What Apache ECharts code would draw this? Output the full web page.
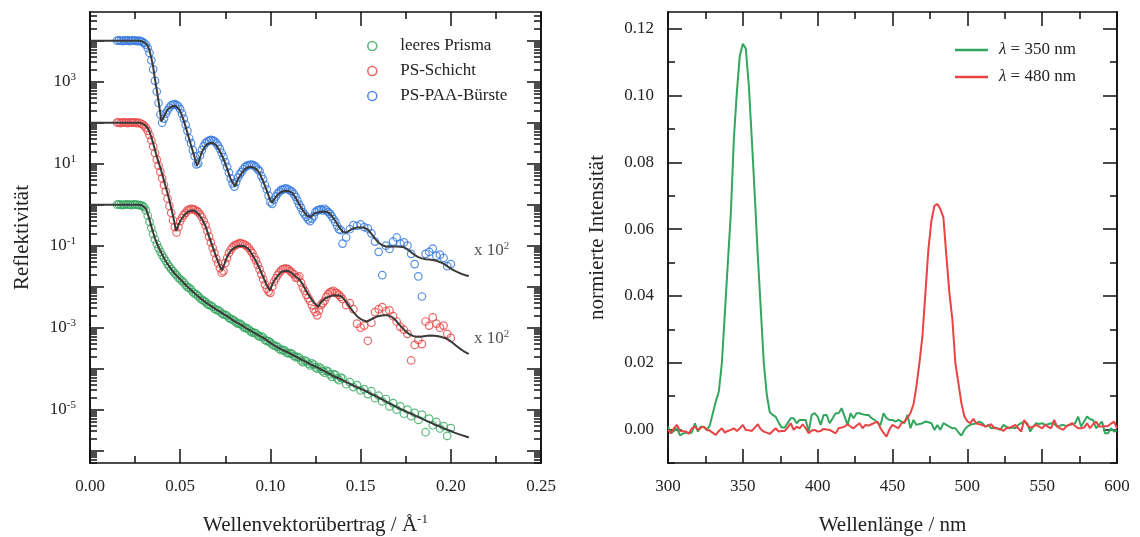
<!DOCTYPE html>
<html><head><meta charset="utf-8">
<script src="https://cdn.jsdelivr.net/npm/echarts@6/dist/echarts.min.js"></script>
<style>html,body{margin:0;padding:0;background:#fff}#c{width:1140px;height:537px}</style>
</head><body><div id="c"></div>
<script>
const FONT = '"Liberation Serif","DejaVu Serif",serif';
const C_GREEN = '#33a65e', C_RED = '#e94343', C_BLUE = '#2e74dd', C_FIT = '#3a3a3a', C_TXT = '#222';

// ---------- left panel: reflectivity (values stored as log10 of reflectivity) ----------
const qExp = [0.015,0.016,0.017,0.018,0.019,0.020,0.021,0.022,0.023,0.024,0.025,0.026,0.027,
0.028,0.029,0.030,0.031,0.032,0.033,0.034,0.035,0.036,0.037,0.038,0.039,0.040,0.041,0.042,0.043,0.044,0.045,0.046,0.047,0.048,0.049,0.050,
0.051,0.052,0.053,0.054,0.055,0.056,0.057,0.058,0.059,0.060,
0.061,0.062,0.063,0.064,0.065,0.066,0.067,0.068,0.069,0.070,
0.071,0.072,0.073,0.074,0.075,0.076,0.077,0.078,0.079,0.080,
0.081,0.082,0.083,0.084,0.085,0.086,0.087,0.088,0.089,0.090,
0.091,0.092,0.093,0.094,0.095,0.096,0.097,0.098,0.099,0.100,
0.101,0.102,0.103,0.104,0.105,0.106,0.107,0.108,0.109,0.110,
0.111,0.112,0.113,0.114,0.115,0.116,0.117,0.118,0.119,0.120,
0.121,0.122,0.123,0.124,0.125,0.126,0.127,0.128,0.129,0.130,
0.131,0.132,0.133,0.134,0.135,0.136,0.137,0.138,0.139,0.140,
0.142,0.144,0.146,0.148,0.150,
0.152,0.154,0.156,0.158,0.160,0.162,0.164,0.166,0.168,0.170,0.172,0.174,0.176,0.178,0.180,0.182,0.184,0.186,0.188,0.190,0.192,0.194,0.196,0.198,0.200];

const reflBlueLog10 = [4.00,4.01,4.00,3.99,4.01,4.00,4.01,3.99,4.00,4.01,4.00,3.99,4.00,
3.99,3.97,3.94,3.90,3.82,3.70,3.52,3.30,3.02,2.76,2.48,2.20,2.00,2.10,2.22,2.30,2.37,2.42,2.44,2.45,2.43,2.40,2.33,
2.22,2.10,1.95,1.80,1.62,1.50,1.33,1.18,0.98,1.00,
1.20,1.33,1.43,1.50,1.54,1.56,1.58,1.57,1.55,1.50,
1.44,1.36,1.26,1.16,1.04,0.92,0.78,0.64,0.52,0.44,
0.55,0.66,0.74,0.80,0.87,0.92,0.95,0.96,0.98,0.97,
0.95,0.92,0.86,0.82,0.70,0.62,0.48,0.37,0.22,0.06,
0.02,0.12,0.20,0.27,0.32,0.36,0.37,0.39,0.39,0.37,
0.34,0.32,0.26,0.19,0.10,0.00,-0.08,-0.18,-0.24,-0.30,
-0.36,-0.40,-0.34,-0.28,-0.18,-0.14,-0.13,-0.11,-0.14,-0.10,
-0.14,-0.18,-0.22,-0.28,-0.35,-0.42,-0.52,-0.60,-0.62,-0.95,
-0.80,-0.60,-0.50,-0.52,-0.48,
-0.55,-0.58,-0.70,-0.90,-1.15,-1.72,-1.00,-1.08,-0.90,-0.80,-0.95,-0.92,-1.00,-1.20,-1.45,-1.75,-2.24,-1.20,-1.15,-1.07,-1.25,-1.22,-1.30,-1.50,-1.45];

const reflRedLog10 = [2.00,2.01,1.99,2.00,2.01,2.00,1.99,2.01,2.00,2.00,2.01,1.99,2.00,
1.98,1.96,1.93,1.88,1.80,1.70,1.57,1.42,1.26,1.10,0.95,0.80,0.64,0.48,0.32,0.15,-0.03,-0.20,-0.38,-0.55,-0.68,-0.55,-0.40,
-0.32,-0.25,-0.20,-0.14,-0.12,-0.10,-0.11,-0.12,-0.15,-0.18,
-0.24,-0.30,-0.40,-0.50,-0.64,-0.78,-0.92,-1.05,-1.18,-1.32,
-1.43,-1.55,-1.66,-1.62,-1.42,-1.30,-1.18,-1.10,-1.04,-1.00,
-0.98,-0.96,-0.94,-0.95,-0.96,-0.98,-1.02,-1.05,-1.12,-1.18,
-1.28,-1.36,-1.47,-1.58,-1.70,-1.82,-1.95,-2.05,-2.12,-2.15,
-2.00,-1.88,-1.80,-1.72,-1.65,-1.60,-1.57,-1.56,-1.56,-1.58,
-1.62,-1.66,-1.70,-1.78,-1.78,-1.75,-1.90,-2.02,-2.10,-2.20,
-2.28,-2.35,-2.45,-2.55,-2.62,-2.70,-2.58,-2.45,-2.40,-2.35,
-2.25,-2.18,-2.14,-2.12,-2.10,-2.15,-2.16,-2.20,-2.25,-2.30,
-2.45,-2.40,-2.55,-2.90,-3.00,
-2.95,-3.32,-2.88,-2.62,-2.55,-2.50,-2.60,-2.58,-2.72,-2.85,-2.98,-3.05,-3.15,-3.80,-3.42,-3.30,-3.40,-2.85,-2.95,-2.75,-2.90,-3.00,-2.95,-3.15,-3.25];

const reflGreenLog10 = [0.00,0.01,0.00,-0.01,0.00,0.01,0.00,0.00,-0.01,0.01,0.00,0.00,-0.01,
-0.01,-0.03,-0.06,-0.14,-0.27,-0.42,-0.57,-0.72,-0.85,-0.96,-1.06,-1.15,-1.23,-1.30,-1.37,-1.45,-1.51,-1.57,-1.62,-1.68,-1.72,-1.78,-1.82,
-1.86,-1.90,-1.96,-2.01,-2.03,-2.07,-2.13,-2.17,-2.19,-2.23,
-2.28,-2.32,-2.34,-2.37,-2.42,-2.45,-2.46,-2.49,-2.54,-2.57,
-2.57,-2.60,-2.65,-2.68,-2.69,-2.71,-2.76,-2.79,-2.80,-2.83,
-2.87,-2.90,-2.90,-2.93,-2.98,-3.01,-3.01,-3.04,-3.09,-3.12,
-3.12,-3.14,-3.19,-3.22,-3.21,-3.24,-3.30,-3.33,-3.33,-3.36,
-3.41,-3.44,-3.45,-3.47,-3.52,-3.55,-3.54,-3.56,-3.61,-3.63,
-3.62,-3.64,-3.69,-3.72,-3.71,-3.73,-3.80,-3.84,-3.80,-3.82,
-3.88,-3.92,-3.87,-3.90,-3.97,-4.00,-3.96,-4.00,-4.06,-4.10,
-4.05,-4.07,-4.14,-4.20,-4.13,-4.15,-4.24,-4.28,-4.22,-4.24,
-4.38,-4.33,-4.45,-4.40,-4.53,
-4.50,-4.62,-4.55,-4.72,-4.66,-4.80,-4.74,-4.92,-4.84,-5.00,-4.92,-5.10,-5.00,-5.16,-5.08,-5.25,-5.12,-5.55,-5.22,-5.38,-5.30,-5.46,-5.40,-5.64,-5.45];

// fitted model curves: [q, log10 R]
const fitBlueLog10 = [[0,4],[0.01,4],[0.02,4],[0.025,4],[0.027,4],[0.028,3.99],[0.029,3.98],[0.030,3.96],[0.031,3.93],[0.032,3.87],[0.033,3.76],[0.034,3.58],[0.035,3.36],[0.036,3.07],[0.037,2.80],[0.038,2.52],[0.039,2.22],[0.0395,2.03],[0.041,2.15],[0.042,2.24],[0.043,2.32],[0.044,2.36],[0.045,2.39],[0.046,2.41],[0.047,2.415],[0.048,2.40],[0.049,2.35],[0.050,2.28],[0.052,2.05],[0.054,1.75],[0.056,1.45],[0.058,1.15],[0.0593,0.95],[0.060,1.02],[0.062,1.28],[0.064,1.44],[0.066,1.50],[0.068,1.51],[0.070,1.45],[0.072,1.30],[0.074,1.12],[0.076,0.88],[0.078,0.62],[0.0804,0.44],[0.082,0.62],[0.084,0.76],[0.086,0.87],[0.088,0.92],[0.090,0.92],[0.092,0.87],[0.094,0.77],[0.096,0.57],[0.098,0.34],[0.100,0.10],[0.1009,0.05],[0.102,0.13],[0.104,0.24],[0.106,0.31],[0.108,0.34],[0.110,0.335],[0.112,0.29],[0.114,0.17],[0.116,0.01],[0.118,-0.14],[0.120,-0.26],[0.1225,-0.30],[0.124,-0.23],[0.126,-0.19],[0.128,-0.17],[0.130,-0.165],[0.132,-0.19],[0.134,-0.27],[0.136,-0.40],[0.138,-0.54],[0.140,-0.66],[0.141,-0.685],[0.142,-0.68],[0.144,-0.63],[0.146,-0.58],[0.148,-0.56],[0.150,-0.555],[0.152,-0.56],[0.154,-0.61],[0.156,-0.71],[0.158,-0.83],[0.160,-0.93],[0.162,-0.99],[0.164,-1.02],[0.166,-1.025],[0.168,-1.02],[0.170,-1.02],[0.172,-1.02],[0.174,-1.04],[0.176,-1.09],[0.178,-1.16],[0.180,-1.23],[0.182,-1.28],[0.184,-1.31],[0.186,-1.33],[0.188,-1.34],[0.190,-1.35],[0.192,-1.37],[0.194,-1.40],[0.196,-1.44],[0.198,-1.50],[0.200,-1.56],[0.202,-1.61],[0.204,-1.65],[0.206,-1.69],[0.208,-1.72],[0.210,-1.74]];

const fitRedLog10 = [[0,2],[0.01,2],[0.02,2],[0.025,2],[0.027,2],[0.028,1.99],[0.029,1.98],[0.030,1.96],[0.031,1.92],[0.032,1.86],[0.033,1.77],[0.034,1.65],[0.035,1.50],[0.036,1.34],[0.037,1.18],[0.038,1.03],[0.039,0.90],[0.040,0.75],[0.041,0.59],[0.042,0.43],[0.043,0.27],[0.044,0.10],[0.045,-0.08],[0.046,-0.27],[0.047,-0.48],[0.0477,-0.64],[0.049,-0.50],[0.050,-0.40],[0.052,-0.27],[0.054,-0.18],[0.056,-0.145],[0.058,-0.15],[0.060,-0.22],[0.062,-0.34],[0.064,-0.52],[0.066,-0.78],[0.068,-1.03],[0.070,-1.28],[0.072,-1.50],[0.073,-1.60],[0.0745,-1.45],[0.076,-1.27],[0.078,-1.13],[0.080,-1.05],[0.082,-1.01],[0.084,-1.0],[0.086,-1.02],[0.088,-1.09],[0.090,-1.22],[0.092,-1.38],[0.094,-1.56],[0.096,-1.76],[0.098,-1.97],[0.0998,-2.09],[0.101,-1.95],[0.102,-1.86],[0.104,-1.74],[0.106,-1.64],[0.108,-1.615],[0.110,-1.62],[0.112,-1.67],[0.114,-1.75],[0.116,-1.82],[0.118,-1.95],[0.120,-2.12],[0.122,-2.26],[0.124,-2.38],[0.1265,-2.49],[0.128,-2.38],[0.130,-2.30],[0.132,-2.25],[0.134,-2.225],[0.136,-2.21],[0.138,-2.215],[0.140,-2.26],[0.142,-2.37],[0.144,-2.50],[0.146,-2.62],[0.148,-2.72],[0.150,-2.79],[0.152,-2.83],[0.1535,-2.85],[0.155,-2.82],[0.157,-2.77],[0.159,-2.73],[0.161,-2.71],[0.163,-2.70],[0.165,-2.70],[0.167,-2.73],[0.169,-2.80],[0.171,-2.90],[0.173,-3.00],[0.175,-3.09],[0.177,-3.16],[0.179,-3.20],[0.181,-3.22],[0.183,-3.22],[0.185,-3.21],[0.187,-3.20],[0.189,-3.19],[0.191,-3.195],[0.193,-3.21],[0.195,-3.23],[0.197,-3.26],[0.199,-3.30],[0.201,-3.37],[0.203,-3.44],[0.205,-3.51],[0.207,-3.57],[0.209,-3.62],[0.210,-3.64]];

const fitGreenLog10 = [[0,0],[0.01,0],[0.02,0],[0.025,0],[0.027,0],[0.028,-0.01],[0.029,-0.02],[0.030,-0.04],[0.031,-0.10],[0.032,-0.22],[0.033,-0.37],[0.034,-0.53],[0.035,-0.68],[0.036,-0.82],[0.037,-0.93],[0.038,-1.04],[0.039,-1.13],[0.040,-1.22],[0.042,-1.38],[0.044,-1.51],[0.046,-1.63],[0.048,-1.73],[0.050,-1.82],[0.052,-1.91],[0.054,-2.00],[0.056,-2.08],[0.058,-2.16],[0.060,-2.24],[0.062,-2.31],[0.064,-2.38],[0.066,-2.44],[0.068,-2.50],[0.070,-2.56],[0.072,-2.61],[0.074,-2.67],[0.076,-2.72],[0.078,-2.78],[0.080,-2.84],[0.082,-2.89],[0.084,-2.94],[0.086,-3.00],[0.088,-3.05],[0.090,-3.10],[0.092,-3.15],[0.094,-3.20],[0.096,-3.25],[0.098,-3.31],[0.100,-3.37],[0.102,-3.43],[0.104,-3.48],[0.106,-3.53],[0.108,-3.57],[0.110,-3.61],[0.112,-3.66],[0.114,-3.70],[0.116,-3.75],[0.118,-3.80],[0.120,-3.84],[0.122,-3.89],[0.124,-3.93],[0.126,-3.97],[0.128,-4.02],[0.130,-4.06],[0.132,-4.11],[0.134,-4.16],[0.136,-4.20],[0.138,-4.24],[0.140,-4.28],[0.142,-4.33],[0.144,-4.37],[0.146,-4.41],[0.148,-4.45],[0.150,-4.49],[0.152,-4.53],[0.154,-4.57],[0.156,-4.62],[0.158,-4.66],[0.160,-4.71],[0.162,-4.75],[0.164,-4.80],[0.166,-4.85],[0.168,-4.89],[0.170,-4.94],[0.172,-4.98],[0.174,-5.02],[0.176,-5.06],[0.178,-5.10],[0.180,-5.14],[0.182,-5.18],[0.184,-5.22],[0.186,-5.26],[0.188,-5.30],[0.190,-5.34],[0.192,-5.38],[0.194,-5.41],[0.196,-5.45],[0.198,-5.49],[0.200,-5.52],[0.202,-5.56],[0.204,-5.59],[0.206,-5.62],[0.208,-5.65],[0.210,-5.68]];

// "x 10^2" scaling notes, anchored in data space [q, log10 R]
const scaleNotes = [[0.2129,-1.12],[0.2129,-3.27]];

// log-axis range (5e-7 .. 5e4) and tick labels
const LOG_MIN = -6.30103, LOG_MAX = 4.69897;
const logLabelExps = [-5,-3,-1,1,3];
const logMajorExps = [-6,-5,-4,-3,-2,-1,0,1,2,3,4];
const logMinor = [];
for (let n = -7; n <= 4; n++) for (let k = 2; k <= 9; k++) { const v = n + Math.log10(k); if (v > LOG_MIN && v < LOG_MAX) logMinor.push(v); }

// ---------- right panel: normalised spectra ----------
const wavelength = [300,302,304,306,308,310,312,314,316,318,
320,322,324,326,328,330,332,334,336,338,
340,342,344,346,348,350,352,354,356,358,
360,362,364,366,368,370,372,374,376,378,
380,382,384,386,388,390,392,394,396,398,
400,402,404,406,408,410,412,414,416,418,
420,422,424,426,428,430,432,434,436,438,
440,442,444,446,448,450,452,454,456,458,
460,462,464,466,468,470,472,474,476,478,
480,482,484,486,488,490,492,494,496,498,
500,502,504,506,508,510,512,514,516,518,
520,522,524,526,528,530,532,534,536,538,
540,542,544,546,548,550,552,554,556,558,
560,562,564,566,568,570,572,574,576,578,
580,582,584,586,588,590,592,594,596,598,
600];
const int350 = [0.0009,-0.0011,-0.0004,0.0004,-0.0017,-0.0012,-0.0009,-0.0012,-0.0008,0.0019,
-0.0006,0.0009,0.0007,-0.0001,0.0014,0.0050,0.0085,0.0115,0.0200,0.0350,
0.0500,0.0650,0.0870,0.1010,0.1120,0.1155,0.1140,0.1030,0.0870,0.0700,
0.0520,0.0360,0.0200,0.0105,0.0052,0.0044,0.0038,0.0020,0.0006,0.0006,
0.0020,0.0034,0.0034,0.0019,0.0029,0.0029,0.0029,-0.0006,0.0044,0.0049,
0.0039,0.0014,0.0044,0.0044,0.0019,0.0034,0.0049,0.0049,0.0064,0.0039,
0.0014,0.0049,0.0034,0.0049,0.0049,0.0046,0.0044,0.0044,0.0034,0.0029,
0.0020,0.0014,0.0049,0.0034,0.0029,0.0029,0.0024,0.0029,0.0024,0.0019,
0.0044,0.0004,0.0029,0.0014,0.0017,0.0019,0.0024,0.0022,0.0019,-0.0001,
0.0014,-0.0001,0.0019,0.0014,0.0009,0.0004,0.0004,-0.0008,-0.0018,-0.0001,
0.0009,0.0014,0.0017,0.0019,0.0024,0.0019,0.0009,0.0014,0.0004,0.0006,
0.0004,-0.0001,0.0014,0.0009,0.0004,0.0006,0.0004,0.0014,0.0019,0.0024,
0.0019,-0.0006,0.0009,0.0019,0.0017,0.0019,0.0014,0.0016,0.0019,0.0017,
0.0009,0.0012,0.0014,0.0011,0.0014,0.0016,0.0019,0.0039,0.0009,0.0024,
0.0039,0.0031,0.0029,0.0004,0.0014,0.0024,-0.0011,-0.0011,0.0004,-0.0006,
-0.0002];
const int480 = [-0.0001,-0.0011,0.0004,0.0014,-0.0004,-0.0005,-0.0006,-0.0011,0.0004,0.0009,
-0.0001,0.0006,0.0009,-0.0001,-0.0003,-0.0010,-0.0016,-0.0004,0.0004,-0.0009,
-0.0004,-0.0001,0.0004,-0.0004,0.0004,0.0014,-0.0001,-0.0002,-0.0004,0.0006,
0.0016,0.0001,-0.0006,-0.0009,-0.0013,-0.0004,0.0004,-0.0006,-0.0004,-0.0004,
0.0006,0.0019,-0.0001,0.0009,0.0004,0.0016,0.0004,-0.0011,-0.0003,-0.0001,
-0.0006,-0.0004,0.0002,0.0000,-0.0001,-0.0006,-0.0011,0.0004,0.0006,0.0009,
0.0016,0.0009,0.0004,0.0012,0.0019,0.0004,0.0014,0.0012,0.0016,0.0020,
0.0024,0.0004,-0.0010,-0.0021,0.0001,0.0014,0.0009,0.0004,0.0019,0.0024,
0.0035,0.0050,0.0075,0.0130,0.0200,0.0280,0.0410,0.0540,0.0625,0.0670,
0.0675,0.0660,0.0635,0.0520,0.0410,0.0330,0.0200,0.0140,0.0080,0.0040,
0.0025,0.0019,0.0032,0.0019,0.0016,0.0014,0.0009,0.0012,0.0016,0.0004,
0.0003,0.0002,-0.0004,0.0004,0.0006,0.0009,0.0014,0.0004,-0.0006,0.0029,
0.0014,0.0006,0.0009,0.0014,0.0009,0.0004,0.0014,0.0008,0.0004,0.0029,
0.0009,0.0004,-0.0001,0.0009,0.0014,0.0019,0.0011,0.0004,0.0004,0.0006,
0.0019,0.0004,0.0016,0.0024,0.0009,0.0009,0.0010,0.0011,0.0018,0.0024,
0.0004];
const intMajor = [0,0.02,0.04,0.06,0.08,0.10,0.12];
const intMinor = [-0.01,0.01,0.03,0.05,0.07,0.09,0.11];

// ---------- styling helpers ----------
const LINE = {color:'#111', width:1.6};
const TICK = {color:'#111', width:1.5};
const supRich = {
  b:{fontSize:17, fontFamily:FONT, color:C_TXT, lineHeight:20},
  s:{fontSize:11, fontFamily:FONT, color:C_TXT, verticalAlign:'top', lineHeight:12}
};
const nameStyle = {fontSize:21, fontFamily:FONT, color:C_TXT, lineHeight:25,
  rich:{s:{fontSize:13, fontFamily:FONT, color:C_TXT, verticalAlign:'top', lineHeight:14}}};
const labelBase = {fontSize:17, fontFamily:FONT, color:C_TXT};

function xAxisDef(grid, pos, min, max, interval, withLabels, name, fmt) {
  return {
    type:'value', gridIndex:grid, position:pos, min, max, interval,
    axisLine:{show:true, onZero:false, lineStyle:LINE},
    axisTick:{show:true, inside:true, length:14, lineStyle:TICK},
    minorTick:{show:true, splitNumber:2, length:7, lineStyle:TICK},
    splitLine:{show:false}, minorSplitLine:{show:false},
    axisLabel: withLabels ? Object.assign({show:true, margin:15, formatter:fmt, hideOverlap:false}, labelBase) : {show:false},
    name: withLabels ? name : '', nameLocation:'middle', nameGap:50, nameTextStyle:nameStyle
  };
}
function yAxisDef(grid, pos, min, max, ticks, len, labels, fmt, name, gap, rich) {
  const ax = {
    type:'value', gridIndex:grid, position:pos, min, max,
    axisLine:{show:true, onZero:false, lineStyle:LINE},
    axisTick:{show:true, inside:true, length:len, customValues:ticks, lineStyle:TICK},
    splitLine:{show:false},
    axisLabel:{show:false}
  };
  if (labels) {
    ax.axisLabel = Object.assign({show:true, margin:14, customValues:labels, formatter:fmt}, labelBase);
    if (rich) ax.axisLabel.rich = rich;
    ax.name = name; ax.nameLocation = 'middle'; ax.nameGap = gap; ax.nameTextStyle = nameStyle;
  }
  return ax;
}

const scatterStyle = (c) => ({color:'rgba(0,0,0,0)', borderColor:c, borderWidth:1.2});
function scatterSeries(name, vals, c) {
  return {type:'scatter', name, xAxisIndex:0, yAxisIndex:0, symbol:'circle', symbolSize:7.5,
    itemStyle:scatterStyle(c), emphasis:{disabled:true}, z:2,
    data: qExp.map((q,i) => [q, vals[i]])};
}
function fitSeries(name, pts) {
  return {type:'line', name, xAxisIndex:0, yAxisIndex:0, showSymbol:false, symbol:'none',
    lineStyle:{color:C_FIT, width:2}, itemStyle:{color:C_FIT}, emphasis:{disabled:true}, z:3, data:pts};
}
function specSeries(name, vals, c) {
  return {type:'line', name, xAxisIndex:2, yAxisIndex:4, showSymbol:false, symbol:'none',
    lineStyle:{color:c, width:2}, itemStyle:{color:c}, emphasis:{disabled:true}, z:3,
    data: wavelength.map((w,i) => [w, vals[i]])};
}

const option = {
  animation:false,
  backgroundColor:'#fff',
  grid:[
    {left:90, top:12, width:451, height:451, containLabel:false, outerBoundsMode:'none'},
    {left:668, top:12, width:449, height:451, containLabel:false, outerBoundsMode:'none'}
  ],
  legend:[
    {orient:'vertical', left:362, top:31, itemWidth:46, itemHeight:9, itemGap:5,
     textStyle:{fontSize:17, fontFamily:FONT, color:C_TXT, lineHeight:20},
     data:[
       {name:'leeres Prisma', icon:'circle', itemStyle:{color:'rgba(0,0,0,0)', borderColor:C_GREEN, borderWidth:1.6}},
       {name:'PS-Schicht', icon:'circle', itemStyle:{color:'rgba(0,0,0,0)', borderColor:C_RED, borderWidth:1.6}},
       {name:'PS-PAA-Bürste', icon:'circle', itemStyle:{color:'rgba(0,0,0,0)', borderColor:C_BLUE, borderWidth:1.6}}
     ], selectedMode:false},
    {orient:'vertical', left:950, top:35, itemWidth:33, itemHeight:2.5, itemGap:7,
     formatter: n => n.replace('λ', '{i|λ}'),
     textStyle:{fontSize:17, fontFamily:FONT, color:C_TXT, lineHeight:20, padding:[0,0,0,6],
       rich:{i:{fontSize:17, fontFamily:FONT, color:C_TXT, fontStyle:'italic', lineHeight:20}}},
     data:[{name:'λ = 350 nm', icon:'rect'}, {name:'λ = 480 nm', icon:'rect'}], selectedMode:false}
  ],
  xAxis:[
    xAxisDef(0, 'bottom', 0, 0.25, 0.05, true, 'Wellenvektorübertrag / Å{s|-1}', v => v.toFixed(2)),
    xAxisDef(0, 'top', 0, 0.25, 0.05, false),
    xAxisDef(1, 'bottom', 300, 600, 50, true, 'Wellenlänge / nm', v => String(v)),
    xAxisDef(1, 'top', 300, 600, 50, false)
  ],
  yAxis:[
    yAxisDef(0, 'left', LOG_MIN, LOG_MAX, logMajorExps, 14, logLabelExps,
      v => '{b|10}{s|' + Math.round(v) + '}', 'Reflektivität', 55, supRich),
    yAxisDef(0, 'left', LOG_MIN, LOG_MAX, logMinor, 7, null),
    yAxisDef(0, 'right', LOG_MIN, LOG_MAX, logMajorExps, 14, null),
    yAxisDef(0, 'right', LOG_MIN, LOG_MAX, logMinor, 7, null),
    yAxisDef(1, 'left', -0.01, 0.125, intMajor, 14, intMajor, v => v.toFixed(2), 'normierte Intensität', 58),
    yAxisDef(1, 'left', -0.01, 0.125, intMinor, 7, null),
    yAxisDef(1, 'right', -0.01, 0.125, intMajor, 14, null),
    yAxisDef(1, 'right', -0.01, 0.125, intMinor, 7, null)
  ],
  series:[
    scatterSeries('leeres Prisma', reflGreenLog10, C_GREEN),
    scatterSeries('PS-Schicht', reflRedLog10, C_RED),
    scatterSeries('PS-PAA-Bürste', reflBlueLog10, C_BLUE),
    fitSeries('Fit leeres Prisma', fitGreenLog10),
    fitSeries('Fit PS-Schicht', fitRedLog10),
    fitSeries('Fit PS-PAA-Bürste', fitBlueLog10),
    {type:'scatter', name:'scale', xAxisIndex:0, yAxisIndex:0, symbolSize:0, silent:true, z:4,
     itemStyle:{color:'rgba(0,0,0,0)'},
     label:{show:true, position:'right', distance:0, formatter:'{b|x 10}{s|2}', rich:supRich},
     data:scaleNotes},
    specSeries('λ = 350 nm', int350, C_GREEN),
    specSeries('λ = 480 nm', int480, C_RED)
  ]
};
const chart = echarts.init(document.getElementById('c'));
chart.setOption(option);
</script>
</body></html>
